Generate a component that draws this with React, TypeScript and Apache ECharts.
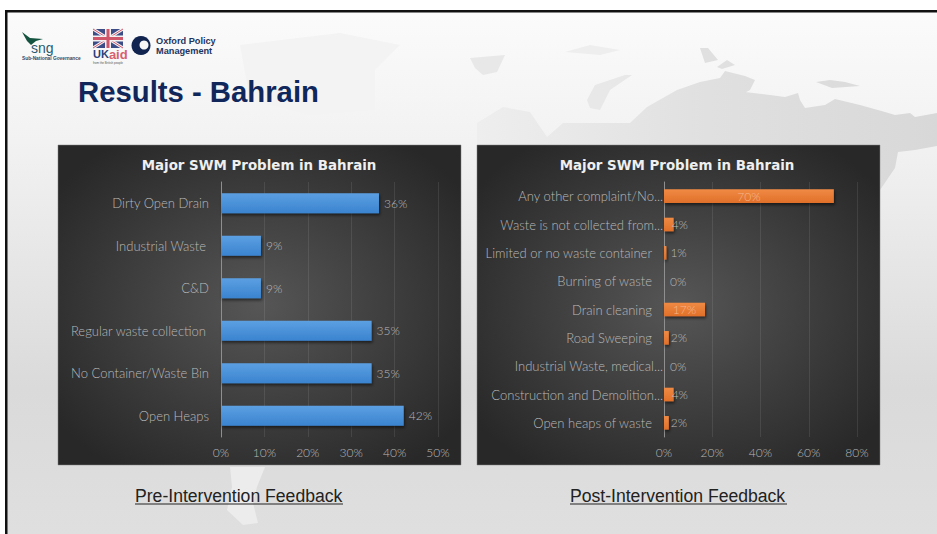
import React, { useEffect, useRef } from "react";
import * as echarts from "echarts";

const preCategories = ["Dirty Open Drain", "Industrial Waste", "C&D", "Regular waste collection", "No Container/Waste Bin", "Open Heaps"];
const preValues = [36.4, 9.2, 9.2, 34.7, 34.7, 42.1];
const postCategories = ["Any other complaint/No...", "Waste is not collected from...", "Limited or no waste container", "Burning of waste", "Drain cleaning", "Road Sweeping", "Industrial Waste, medical...", "Construction and Demolition...", "Open heaps of waste"];
const postValues = [70.4, 4, 1, 0, 17, 2, 0, 4, 2];
const chartTitle = "Major SWM Problem in Bahrain";
const paddedPre = ["Industrial Waste", "Regular waste collection"];

const FONT = "Lato";
const WEIGHT = 300;
const panelFill = () => new echarts.graphic.RadialGradient(0.5, 0.5, 0.62, [
  { offset: 0, color: "#565656" },
  { offset: 1, color: "#282828" },
]);

const barFill = (a: string, b: string) => new echarts.graphic.LinearGradient(0, 0, 0, 1, [
  { offset: 0, color: a },
  { offset: 1, color: b },
]);

const pct = (p: any) => `${Math.round(p.value)}%`;

export default function App() {
  const ref = useRef<HTMLDivElement>(null);
  useEffect(() => {
    const chart = echarts.init(ref.current!, undefined, { renderer: "svg" });
    const labelColor = "#b8b8b8";
    const base = { color: labelColor, fontFamily: FONT, fontWeight: WEIGHT };
    const xAxisCommon = {
      type: "value",
      axisLine: { show: false },
      axisTick: { show: false },
      axisLabel: { ...base, fontSize: 12, margin: 9, formatter: "{value}%" },
      splitLine: { show: true, lineStyle: { color: "rgba(255,255,255,0.09)", width: 1 } },
    };
    const yAxisCommon = {
      type: "category",
      inverse: true,
      axisLine: { show: true, lineStyle: { color: "#8f8f8f", width: 1 } },
      axisTick: { show: false },
    };
    const titleStyle = { color: "#efefef", fontFamily: "DejaVu Sans", fontWeight: "bold", fontSize: 13.4 };
    const underlined = { fontFamily: "Liberation Sans", fontSize: 17.6, fill: "#222222" };
    const logoText = { fontFamily: "Liberation Sans", fontWeight: "bold", fill: "#1f3560" };
    chart.setOption({
      animation: false,
      backgroundColor: "#ffffff",
      title: [
        { text: chartTitle, left: 254, top: 154, textAlign: "center", textStyle: titleStyle },
        { text: chartTitle, left: 672, top: 154, textAlign: "center", textStyle: titleStyle },
      ],
      grid: [
        { left: 221, top: 182, width: 217, height: 255 },
        { left: 664, top: 182, width: 193, height: 255 },
      ],
      xAxis: [
        { ...xAxisCommon, gridIndex: 0, min: 0, max: 50, interval: 10 },
        { ...xAxisCommon, gridIndex: 1, min: 0, max: 80, interval: 20 },
      ],
      yAxis: [
        {
          ...yAxisCommon, gridIndex: 0, data: preCategories,
          axisLabel: {
            margin: 12,
            formatter: (v: string) => (paddedPre.includes(v) ? `{p|${v}}` : `{f|${v}}`),
            rich: {
              f: { ...base, fontSize: 13 },
              p: { ...base, fontSize: 13, padding: [0, 3, 0, 0] },
            },
          },
        },
        {
          ...yAxisCommon, gridIndex: 1, data: postCategories,
          axisLabel: {
            margin: 1,
            formatter: (v: string) => (v.endsWith("...") ? `{t|${v}}` : `{f|${v}}`),
            rich: {
              t: { ...base, fontSize: 13 },
              f: { ...base, fontSize: 13, padding: [0, 11, 0, 0] },
            },
          },
        },
      ],
      series: [
        {
          type: "bar", xAxisIndex: 0, yAxisIndex: 0, data: preValues, barCategoryGap: "53%",
          itemStyle: { color: barFill("#5ca0e2", "#3a83cf"), shadowColor: "rgba(0,0,0,0.55)", shadowBlur: 3, shadowOffsetX: 1, shadowOffsetY: 2 },
          label: { show: true, position: "right", distance: 5, ...base, fontSize: 12, formatter: pct },
        },
        {
          type: "bar", xAxisIndex: 1, yAxisIndex: 1, barCategoryGap: "52%",
          data: postValues.map((v) => ({
            value: v,
            label: v > 10
              ? { show: true, position: "inside", color: "#f5b68c", fontFamily: FONT, fontWeight: WEIGHT, fontSize: 12, formatter: pct }
              : { show: true, position: "right", distance: 6 - 2 * v, ...base, fontSize: 12, formatter: pct },
          })),
          itemStyle: { color: barFill("#f08a44", "#e0702a"), shadowColor: "rgba(0,0,0,0.55)", shadowBlur: 3, shadowOffsetX: 1, shadowOffsetY: 2 },
        },
      ],
      graphic: [
        { type: "rect", z: -10, shape: { x: 0, y: 0, width: 937, height: 534 }, style: { fill: "#ffffff" } },
        {
          type: "rect", z: -9, shape: { x: 5, y: 10, width: 932, height: 524 },
          style: { fill: new echarts.graphic.LinearGradient(0, 0, 0, 1, [
            { offset: 0, color: "#fbfbfb" },
            { offset: 0.25, color: "#f2f2f2" },
            { offset: 0.72, color: "#dadada" },
            { offset: 1, color: "#dfdfdf" },
          ]) },
        },
        // background map
        {
          type: "polygon", z: -8,
          shape: { points: [[477, 123], [503, 107], [530, 112], [547, 137], [563, 123], [630, 123], [647, 107], [677, 90], [700, 82], [720, 78], [725, 71], [745, 76], [755, 80], [750, 90], [737, 97], [745, 92], [770, 95], [785, 97], [798, 93], [800, 100], [805, 108], [825, 105], [835, 99], [860, 105], [885, 112], [895, 115], [910, 113], [915, 117], [937, 113], [937, 146], [915, 150], [898, 152], [895, 168], [880, 190], [860, 190], [477, 145]] },
          style: { fill: new echarts.graphic.LinearGradient(0, 0, 1, 0, [
            { offset: 0, color: "#eeeeee" },
            { offset: 0.5, color: "#e0e0e0" },
            { offset: 1, color: "#d8d8d8" },
          ]) },
        },
        { type: "polygon", z: -8, shape: { points: [[700, 48], [708, 48], [718, 60], [705, 63]] }, style: { fill: "#e0e0e0" } },
        { type: "polygon", z: -8, shape: { points: [[717, 67], [727, 60], [735, 65], [722, 69]] }, style: { fill: "#e0e0e0" } },
        { type: "polygon", z: -8, shape: { points: [[816, 82], [830, 80], [845, 82], [860, 86], [832, 88]] }, style: { fill: "#dcdcdc" } },
        { type: "polygon", z: -8, shape: { points: [[587, 100], [595, 85], [625, 75], [632, 75], [610, 90], [600, 110], [590, 108]] }, style: { fill: "#e8e8e8" } },
        { type: "polygon", z: -8, shape: { points: [[470, 58], [505, 55], [497, 72], [483, 75], [475, 68]] }, style: { fill: "#e8e8e8" } },
        { type: "polygon", z: -8, shape: { points: [[565, 52], [590, 45], [620, 50], [600, 55]] }, style: { fill: "#eeeeee" } },
        { type: "polygon", z: -8, shape: { points: [[240, 45], [340, 33], [400, 45], [375, 70], [375, 110], [310, 115], [250, 100]] }, style: { fill: "#f3f3f3" } },
        { type: "polygon", z: -8, shape: { points: [[230, 467], [265, 467], [257, 487], [253, 503], [258, 523], [243, 525], [227, 510], [232, 487]] }, style: { fill: "#ececec" } },

        { type: "rect", z: -7, shape: { x: 5, y: 10, width: 932, height: 2.5 }, style: { fill: "#111111" } },
        { type: "rect", z: -7, shape: { x: 5, y: 10, width: 2.5, height: 524 }, style: { fill: "#111111" } },

        { type: "rect", z: -6, shape: { x: 58, y: 145, width: 403, height: 320 }, style: { fill: panelFill(), stroke: "#808080", lineWidth: 0.5 } },
        { type: "rect", z: -6, shape: { x: 477, y: 145, width: 403, height: 320 }, style: { fill: panelFill(), stroke: "#808080", lineWidth: 0.5 } },

        // sng logo
        { type: "polygon", z: -5, shape: { points: [[22, 32], [30, 38], [43, 39], [36, 41], [31, 45], [27, 41]] }, style: { fill: "#14533f" } },
        { type: "text", z: -5, x: 31, y: 41, style: { text: "sng", fontFamily: "Liberation Sans", fontSize: 14, fill: "#2b5a6e" } },
        { type: "text", z: -5, x: 22, y: 56, style: { text: "Sub-National Governance", fontFamily: "Liberation Sans", fontWeight: "bold", fontSize: 4.8, fill: "#2b4a6a" } },

        // UK aid flag
        { type: "rect", z: -5, shape: { x: 93, y: 29, width: 30, height: 19 }, style: { fill: "#3b4c86" } },
        { type: "line", z: -5, shape: { x1: 93, y1: 29, x2: 123, y2: 48 }, style: { stroke: "#f2f2f2", lineWidth: 3 } },
        { type: "line", z: -5, shape: { x1: 123, y1: 29, x2: 93, y2: 48 }, style: { stroke: "#f2f2f2", lineWidth: 3 } },
        { type: "line", z: -5, shape: { x1: 93, y1: 29, x2: 123, y2: 48 }, style: { stroke: "#d0566a", lineWidth: 1 } },
        { type: "line", z: -5, shape: { x1: 123, y1: 29, x2: 93, y2: 48 }, style: { stroke: "#d0566a", lineWidth: 1 } },
        { type: "rect", z: -5, shape: { x: 93, y: 35.5, width: 30, height: 6 }, style: { fill: "#f2f2f2" } },
        { type: "rect", z: -5, shape: { x: 105, y: 29, width: 6, height: 19 }, style: { fill: "#f2f2f2" } },
        { type: "rect", z: -5, shape: { x: 93, y: 37, width: 30, height: 3 }, style: { fill: "#d0566a" } },
        { type: "rect", z: -5, shape: { x: 106.5, y: 29, width: 3, height: 19 }, style: { fill: "#d0566a" } },
        { type: "text", z: -5, x: 93, y: 47.5, style: { text: "{a|UK}{b|aid}", rich: { a: { fontFamily: "Liberation Sans", fontWeight: "bold", fontSize: 11, fill: "#2a3f7a" }, b: { fontFamily: "Liberation Sans", fontWeight: "bold", fontSize: 13, fill: "#d95f6f" } } } },
        { type: "text", z: -5, x: 93, y: 61.5, style: { text: "from the British people", fontFamily: "Liberation Sans", fontSize: 3, fill: "#555555" } },

        // OPM logo
        { type: "circle", z: -5, shape: { cx: 141, cy: 45.5, r: 9.5 }, style: { fill: "#10244f" } },
        { type: "circle", z: -5, shape: { cx: 144, cy: 45, r: 4.5 }, style: { fill: "#f6f6f6" } },
        { type: "text", z: -5, x: 156, y: 36, style: { text: "Oxford Policy", fontSize: 9.2, ...logoText } },
        { type: "text", z: -5, x: 156, y: 46, style: { text: "Management", fontSize: 9.2, ...logoText } },

        { type: "text", z: -5, x: 78, y: 77, style: { text: "Results - Bahrain", fontFamily: "Liberation Sans", fontWeight: "bold", fontSize: 29.3, fill: "#10275c" } },

        { type: "text", z: -5, x: 135, y: 487, style: { text: "Pre-Intervention Feedback", ...underlined } },
        { type: "line", z: -5, shape: { x1: 135, y1: 504, x2: 343, y2: 504 }, style: { stroke: "#222222", lineWidth: 1 } },
        { type: "text", z: -5, x: 570, y: 487, style: { text: "Post-Intervention Feedback", ...underlined } },
        { type: "line", z: -5, shape: { x1: 570, y1: 504, x2: 787, y2: 504 }, style: { stroke: "#222222", lineWidth: 1 } },
      ],
    });
    return () => chart.dispose();
  }, []);
  return <div ref={ref} style={{ position: "fixed", left: 0, top: 0, width: 937, height: 534 }} />;
}
